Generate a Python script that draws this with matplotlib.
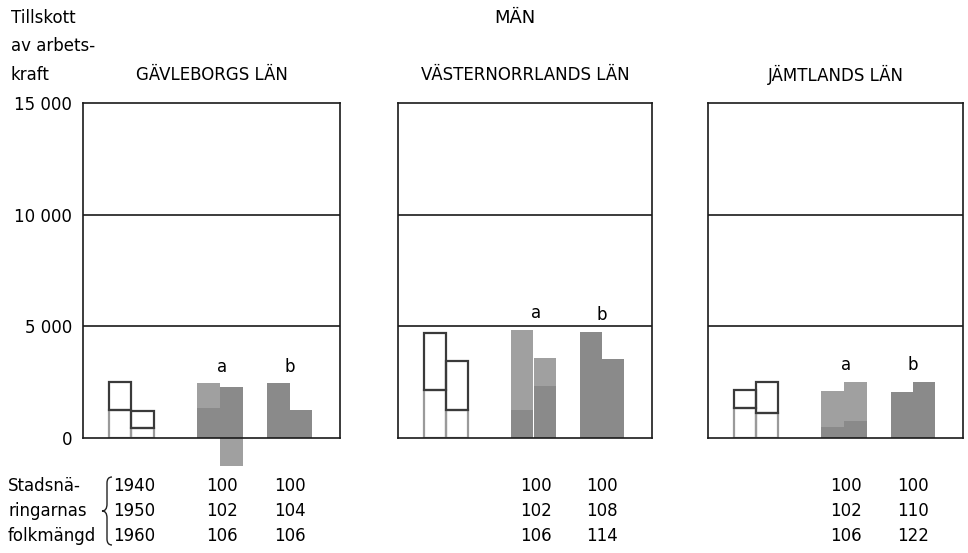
import matplotlib
matplotlib.use('Agg')
import matplotlib.pyplot as plt
import matplotlib.transforms as mtransforms
from matplotlib.path import Path
from matplotlib.patches import PathPatch

plt.rcParams['font.family'] = ['DejaVu Sans']

W, H = 968, 553

regions = ['GÄVLEBORGS LÄN', 'VÄSTERNORRLANDS LÄN', 'JÄMTLANDS LÄN']

# hollow bars: lower part and total height
hollow_low = [[1250, 450], [2150, 1250], [1350, 1100]]
hollow_top = [[2500, 1200], [4700, 3450], [2150, 2500]]
# alternative a: dark lower part, total height, part below zero
a_low = [[1350, 2300], [1250, 2350], [500, 750]]
a_top = [[2450, 2300], [4850, 3600], [2100, 2500]]
a_neg = [[0, -1250], [0, 0], [0, 0]]
# alternative b
b_top = [[2450, 1250], [4750, 3550], [2050, 2500]]

# index of town population (1940 = 100)
years = ['1940', '1950', '1960']
row_text = ['Stadsnä-', 'ringarnas', 'folkmängd']
pop_a = [[100, 102, 106], [100, 102, 106], [100, 102, 106]]
pop_b = [[100, 104, 106], [100, 108, 114], [100, 110, 122]]

yticks = [0, 5000, 10000, 15000]
ytick_labels = ['0', '5 000', '10 000', '15 000']

# layout (pixels)
panel_left = [83, 398, 708]
panel_right = [340, 652, 963]
panel_top, panel_bottom = 103, 438
x_hollow = [1.59, 2.55]
x_a = [5.37, 6.36]
x_b = [8.36, 9.32]
bw = 0.96
row_y = [486, 511, 536]

dark = '#8a8a8a'
light = '#a0a0a0'
edge_dark = '#3a3a3a'
edge_light = '#9a9a9a'
fs = 12


def fx(x):
    return x / W


def fy(y):
    return 1 - y / H


fig = plt.figure(figsize=(W / 100, H / 100), dpi=100)

for i in range(3):
    ax = fig.add_axes([fx(panel_left[i]), fy(panel_bottom),
                       (panel_right[i] - panel_left[i]) / W,
                       (panel_bottom - panel_top) / H])
    ax.set_xlim(0, 11)
    ax.set_ylim(0, 15000)
    for s in ax.spines.values():
        s.set_linewidth(1.2)
        s.set_color('#1a1a1a')
    ax.set_xticks([])
    ax.set_yticks(yticks)
    if i == 0:
        ax.set_yticklabels(ytick_labels, fontsize=fs)
    else:
        ax.set_yticklabels([])
    ax.tick_params(axis='y', length=0, pad=8)
    for yv in [5000, 10000]:
        ax.axhline(yv, color='#1a1a1a', lw=1.2)

    # hollow bars
    for j in range(2):
        lo = hollow_low[i][j]
        tp = hollow_top[i][j]
        ax.bar(x_hollow[j], lo, bw, fill=False, edgecolor=edge_light, lw=1.6)
        ax.bar(x_hollow[j], tp - lo, bw, bottom=lo, fill=False,
               edgecolor=edge_dark, lw=1.6)

    # alternative a
    for j in range(2):
        lo = a_low[i][j]
        tp = a_top[i][j]
        ax.bar(x_a[j], lo, bw, color=dark, lw=0)
        ax.bar(x_a[j], tp - lo, bw, bottom=lo, color=light, lw=0)
        if a_neg[i][j] < 0:
            ax.bar(x_a[j], a_neg[i][j], bw, color=light, lw=0, clip_on=False)

    # alternative b
    for j in range(2):
        ax.bar(x_b[j], b_top[i][j], bw, color=dark, lw=0)

    xa = sum(x_a) / 2 + 0.1
    xb = sum(x_b) / 2
    ax.text(xa, max(a_top[i]) + 750, 'a', ha='center', va='center', fontsize=fs)
    ax.text(xb, max(b_top[i]) + 750, 'b', ha='center', va='center', fontsize=fs)

    # titles
    fig.text(fx((panel_left[i] + panel_right[i]) / 2), fy(75), regions[i],
             ha='center', va='center', fontsize=fs)

    # population index table
    tr = mtransforms.blended_transform_factory(ax.transData, fig.transFigure)
    for r in range(3):
        ax.text(xa, fy(row_y[r]), str(pop_a[i][r]), transform=tr,
                ha='center', va='center', fontsize=fs, clip_on=False)
        ax.text(xb, fy(row_y[r]), str(pop_b[i][r]), transform=tr,
                ha='center', va='center', fontsize=fs, clip_on=False)

fig.text(fx(515), fy(18), 'MÄN', ha='center', va='center', fontsize=fs + 1)
fig.text(fx(11), fy(18), 'Tillskott', ha='left', va='center', fontsize=fs)
fig.text(fx(11), fy(46), 'av arbets-', ha='left', va='center', fontsize=fs)
fig.text(fx(11), fy(75), 'kraft', ha='left', va='center', fontsize=fs)

for r in range(3):
    fig.text(fx(8), fy(row_y[r]), row_text[r], ha='left', va='center', fontsize=fs)
    fig.text(fx(113), fy(row_y[r]), years[r], ha='left', va='center', fontsize=fs)

# curly brace in pixel coordinates
px = mtransforms.Affine2D().scale(1 / W, -1 / H).translate(0, 1) + fig.transFigure
verts = [(112, 477), (107, 477), (107, 483),
         (107, 504),
         (107, 511), (102, 511),
         (107, 511), (107, 518),
         (107, 539),
         (107, 545), (112, 545)]
codes = [Path.MOVETO, Path.CURVE3, Path.CURVE3,
         Path.LINETO,
         Path.CURVE3, Path.CURVE3,
         Path.CURVE3, Path.CURVE3,
         Path.LINETO,
         Path.CURVE3, Path.CURVE3]
fig.patches.append(PathPatch(Path(verts, codes), transform=px, fill=False,
                             lw=1.0, edgecolor='#222222'))

fig.savefig('out.png', dpi=100)
